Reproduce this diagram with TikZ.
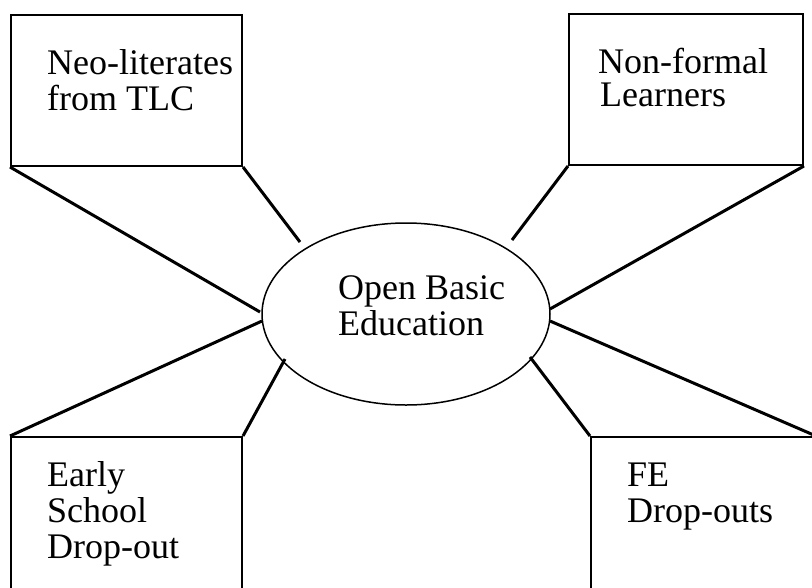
\documentclass[tikz,border=0pt]{standalone}
\usepackage{fontspec}
\setmainfont{Liberation Serif}
\usetikzlibrary{shapes.geometric,positioning}
\tikzstyle{grp}=[rectangle,draw=black,line width=2pt,anchor=north west,
  inner sep=0pt]
\tikzstyle{obe}=[ellipse,draw=black,line width=1.5pt,inner sep=0pt,
  minimum width=288pt,minimum height=182pt]
\tikzstyle{txt}=[align=left,anchor=base west,inner sep=0pt,
  font=\fontsize{36}{36}\selectfont]
\tikzstyle{spoke}=[line width=3pt]

\begin{document}
\begin{tikzpicture}[x=1pt,y=-1pt]
        \useasboundingbox (0,0) rectangle (812,587);
        \clip (0,0) rectangle (812,587);
        \node [style=obe] (c) at (406,314) {};
        \node [style=grp,minimum width=231pt,minimum height=151pt] (nl) at (10,14) {};
        \node [style=grp,minimum width=234pt,minimum height=151pt] (nf) at (568,13) {};
        \node [style=grp,minimum width=231pt,minimum height=200pt] (es) at (10,436) {};
        \node [style=grp,minimum width=224pt,minimum height=200pt] (fe) at (590,436) {};
        % anchor base west sits on the last line
        \node [style=txt] (ct) at (338,335) {Open Basic\\Education};
        \node [style=txt] (nlt) at (47,110) {Neo-literates\\from TLC};
        \node [style=txt,font=\fontsize{36}{33}\selectfont] (nft) at (598,106) {Non-formal\\\hspace{2pt}Learners};
        \node [style=txt] (est) at (47,558) {Early\\School\\Drop-out};
        \node [style=txt] (fet) at (627,522) {FE\\Drop-outs};
        \coordinate (nl1) at (260,312);
        \coordinate (nl2) at (300,242);
        \coordinate (nf1) at (512,240);
        \coordinate (nf2) at (550,309);
        \coordinate (es1) at (262,321);
        \coordinate (es2) at (285,359);
        \coordinate (fe1) at (530,357);
        \coordinate (fe2) at (550,321);
        \draw [style=spoke] (nl.south west) to (nl1);
        \draw [style=spoke] (nl.south east) to (nl2);
        \draw [style=spoke] (nf.south west) to (nf1);
        \draw [style=spoke] (nf.south east) to (nf2);
        \draw [style=spoke] (es.north west) to (es1);
        \draw [style=spoke] (es.north east) to (es2);
        \draw [style=spoke] (fe.north west) to (fe1);
        \draw [style=spoke] (fe.north east) to (fe2);
    \end{tikzpicture}
\end{document}
